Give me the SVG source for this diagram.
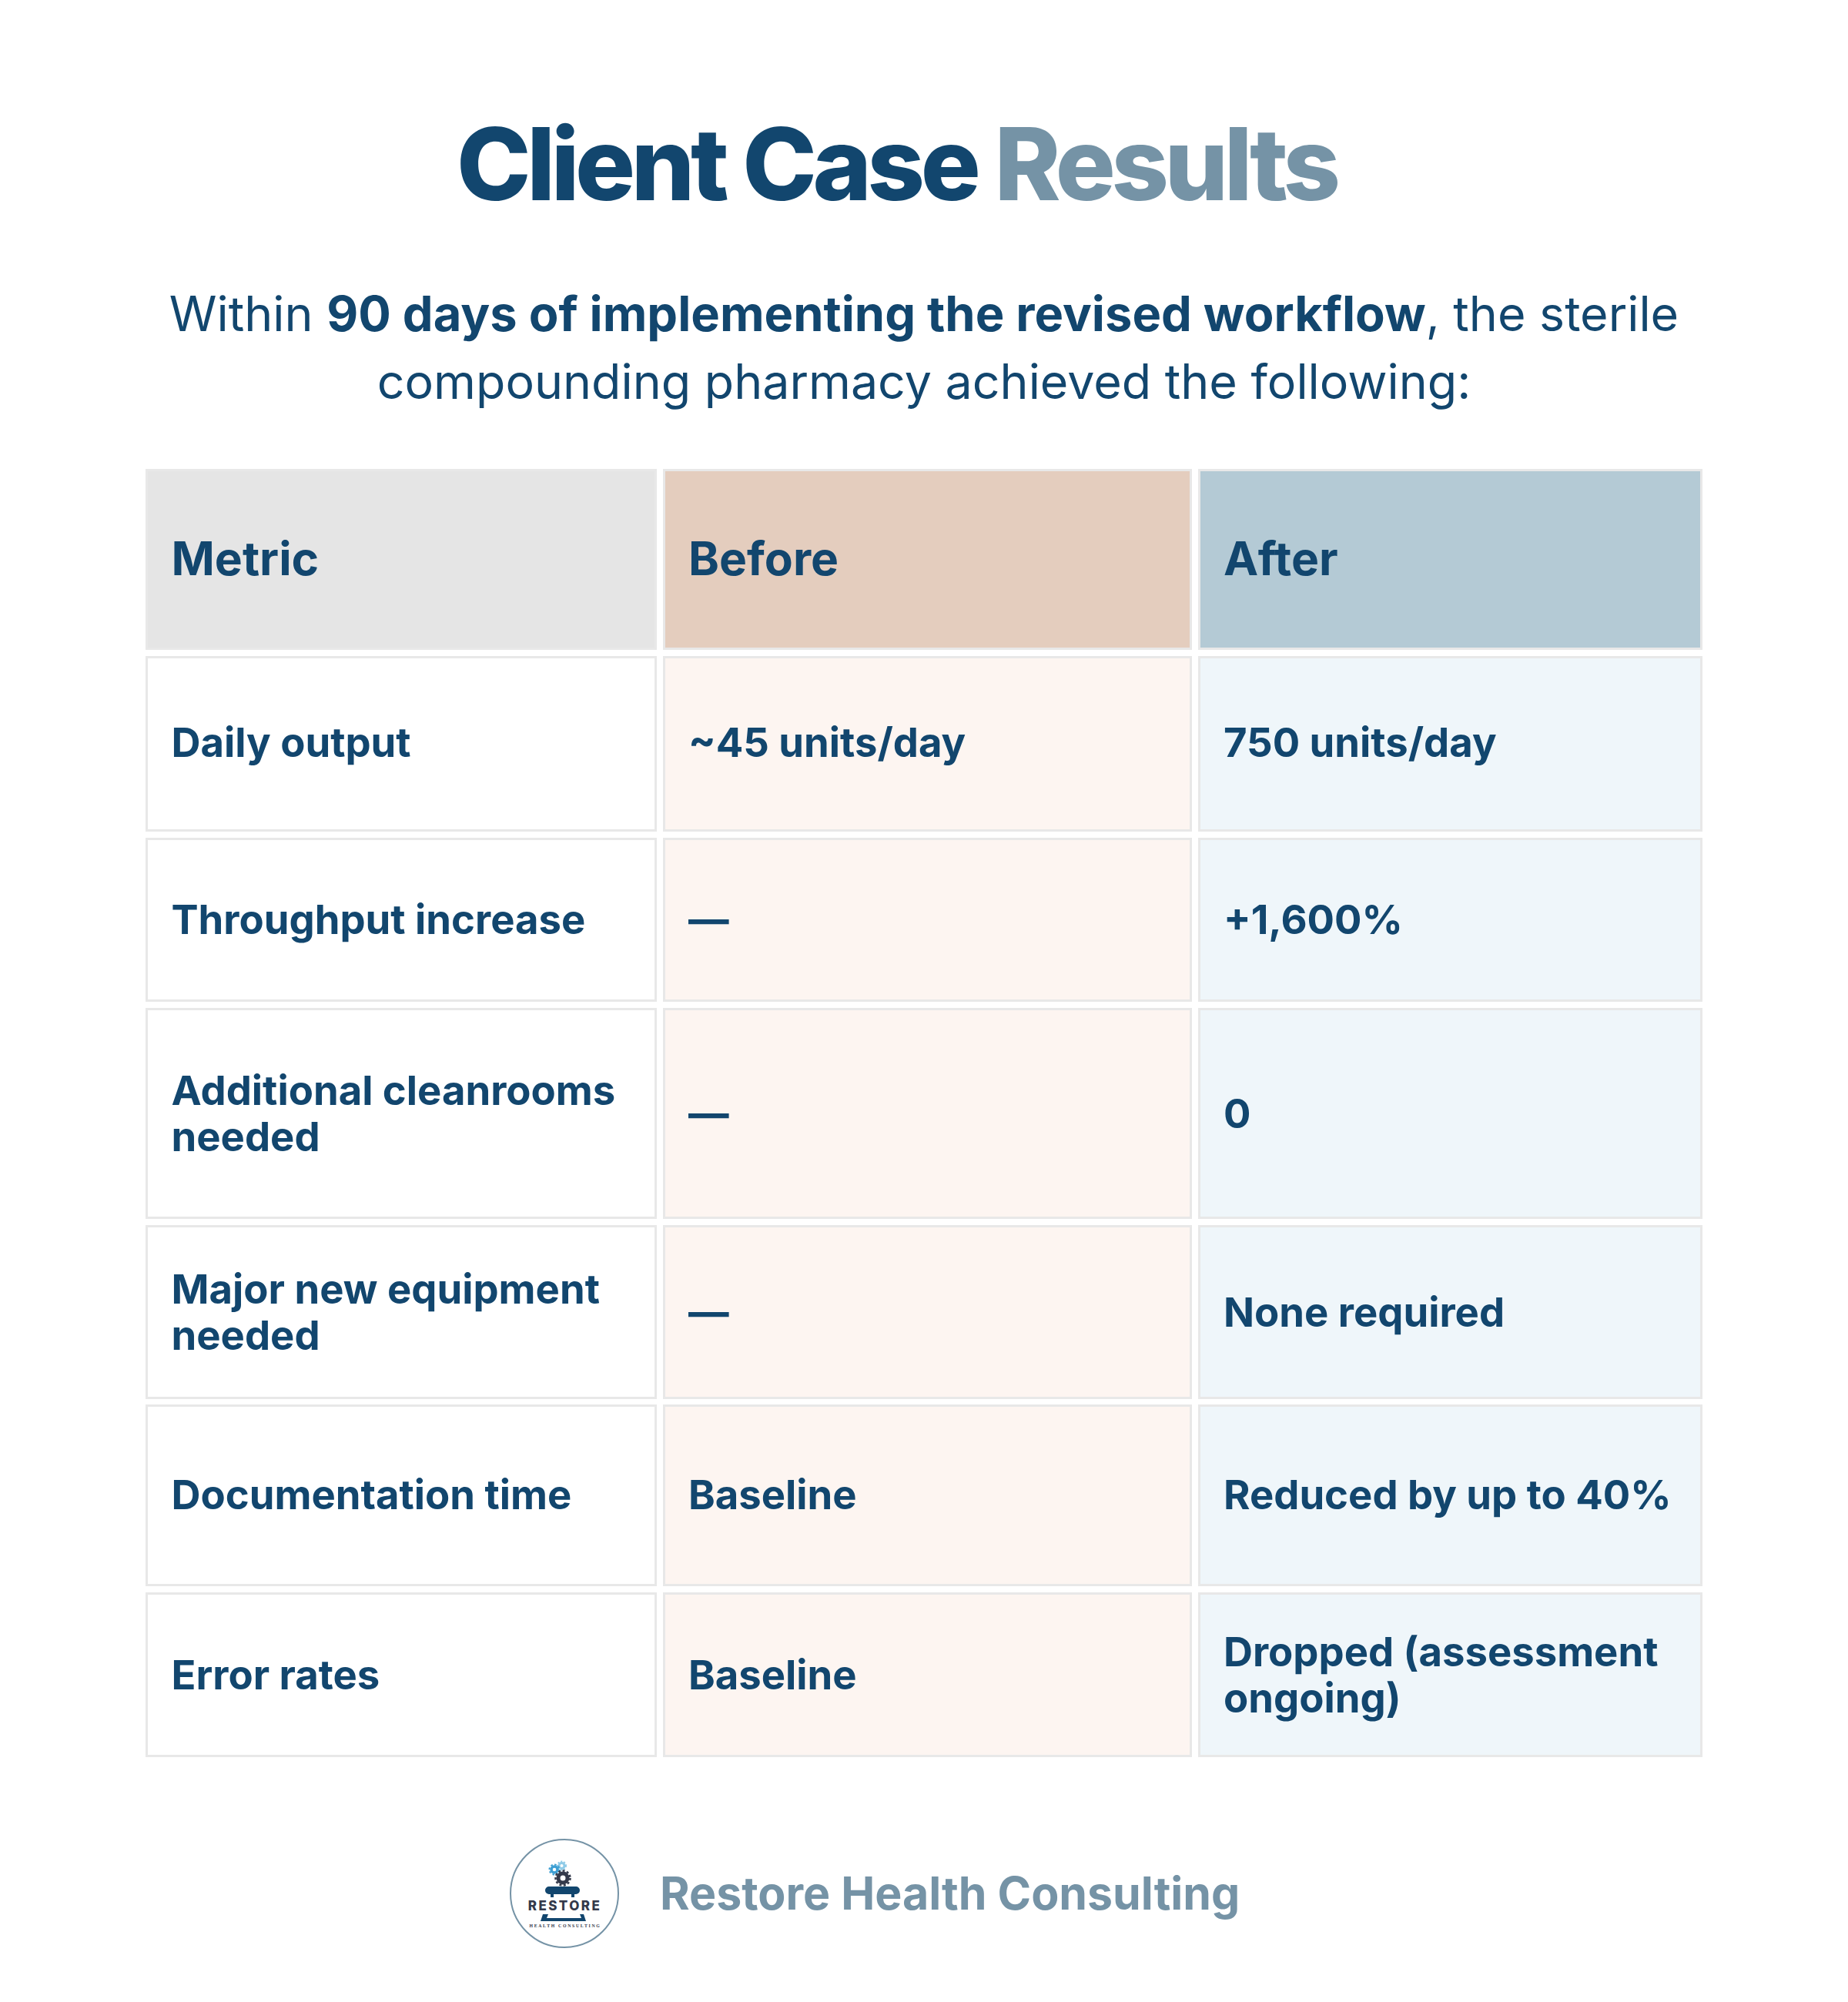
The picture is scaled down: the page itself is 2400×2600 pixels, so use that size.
<svg xmlns="http://www.w3.org/2000/svg" width="2400" height="2600" viewBox="0 0 2400 2600">
<style>
text{font-family:Inter,"Liberation Sans",sans-serif;fill:#12466e}
.t{font-size:130px;font-weight:800;letter-spacing:-5.400px}
.s{font-size:62.700px;font-weight:400}
.h{font-size:60.500px;font-weight:700}
.c{font-size:52.600px;font-weight:700}
.cell{stroke:#e8e8e8;stroke-width:3}
.m{fill:#fff}.b{fill:#fdf5f1}.a{fill:#eff6fa}
</style>
<rect width="2400" height="2600" fill="#fff"/>
<g id="title"><text class="t" x="593" y="260">Client Case <tspan fill="#7593a6">Results</tspan></text></g>
<g id="subtitle"><text class="s" x="1200" y="429.500" text-anchor="middle">Within <tspan font-weight="700" font-size="63.200">90 days of implementing the revised workflow</tspan>, the sterile</text>
<text class="s" x="1200" y="517.500" text-anchor="middle">compounding pharmacy achieved the following:</text></g>
<g id="header">
<rect class="cell" x="190.500" y="610.500" width="661" height="232" fill="#e5e5e5"/>
<rect class="cell" x="862.500" y="610.500" width="684" height="232" fill="#e4cdbe"/>
<rect class="cell" x="1557.500" y="610.500" width="652" height="232" fill="#b4cad5"/>
<text class="h" x="222.500" y="747">Metric</text><text class="h" x="894" y="747">Before</text><text class="h" x="1589" y="747">After</text>
</g>
<g id="row1"><rect class="cell m" x="190.500" y="853.500" width="661" height="225"/><rect class="cell b" x="862.500" y="853.500" width="684" height="225"/><rect class="cell a" x="1557.500" y="853.500" width="652" height="225"/>
<text class="c" x="222.500" y="983">Daily output</text><text class="c" x="894" y="983">~45 units/day</text><text class="c" x="1589" y="983">750 units/day</text></g>
<g id="row2"><rect class="cell m" x="190.500" y="1089.500" width="661" height="210"/><rect class="cell b" x="862.500" y="1089.500" width="684" height="210"/><rect class="cell a" x="1557.500" y="1089.500" width="652" height="210"/>
<text class="c" x="222.500" y="1213">Throughput increase</text><text class="c" x="894" y="1213">—</text><text class="c" x="1589" y="1213">+1,600%</text></g>
<g id="row3"><rect class="cell m" x="190.500" y="1310.500" width="661" height="271"/><rect class="cell b" x="862.500" y="1310.500" width="684" height="271"/><rect class="cell a" x="1557.500" y="1310.500" width="652" height="271"/>
<text class="c" x="222.500" y="1435">Additional cleanrooms</text><text class="c" x="222.500" y="1495">needed</text><text class="c" x="894" y="1465">—</text><text class="c" x="1589" y="1465">0</text></g>
<g id="row4"><rect class="cell m" x="190.500" y="1592.500" width="661" height="223"/><rect class="cell b" x="862.500" y="1592.500" width="684" height="223"/><rect class="cell a" x="1557.500" y="1592.500" width="652" height="223"/>
<text class="c" x="222.500" y="1693">Major new equipment</text><text class="c" x="222.500" y="1753">needed</text><text class="c" x="894" y="1723">—</text><text class="c" x="1589" y="1723">None required</text></g>
<g id="row5"><rect class="cell m" x="190.500" y="1825.500" width="661" height="233"/><rect class="cell b" x="862.500" y="1825.500" width="684" height="233"/><rect class="cell a" x="1557.500" y="1825.500" width="652" height="233"/>
<text class="c" x="222.500" y="1960">Documentation time</text><text class="c" x="894" y="1960">Baseline</text><text class="c" x="1589" y="1960">Reduced by up to 40%</text></g>
<g id="row6"><rect class="cell m" x="190.500" y="2069.500" width="661" height="211"/><rect class="cell b" x="862.500" y="2069.500" width="684" height="211"/><rect class="cell a" x="1557.500" y="2069.500" width="652" height="211"/>
<text class="c" x="222.500" y="2194">Error rates</text><text class="c" x="894" y="2194">Baseline</text><text class="c" x="1589" y="2164">Dropped (assessment</text><text class="c" x="1589" y="2224">ongoing)</text></g>
<g id="logo">
<circle cx="733" cy="2459" r="70" fill="#fff" stroke="#7593a6" stroke-width="2"/>
<circle cx="729.500" cy="2423" r="3.500" fill="none" stroke="#8fcbe8" stroke-width="3"/>
<circle cx="729.500" cy="2423" r="5.500" fill="none" stroke="#8fcbe8" stroke-width="2" stroke-dasharray="2 2"/>
<circle cx="720" cy="2428" r="4" fill="none" stroke="#3d9fd3" stroke-width="3.500"/>
<circle cx="720" cy="2428" r="6.500" fill="none" stroke="#3d9fd3" stroke-width="2" stroke-dasharray="2.500 2.500"/>
<circle cx="731" cy="2439" r="6" fill="none" stroke="#33394a" stroke-width="5"/>
<circle cx="731" cy="2439" r="9.500" fill="none" stroke="#33394a" stroke-width="2.500" stroke-dasharray="3 2.500"/>
<path d="M713 2450H748a5 5 0 0 1 0 10H746v4H742v-4H719v4H715v-4H713a5 5 0 0 1 0-10Z" fill="#12466e"/>
<text x="733.500" y="2481" text-anchor="middle" font-size="17" font-weight="800" letter-spacing="2.400" style="font-family:Inter,sans-serif;fill:#33394a">RESTORE</text>
<path d="M705 2486H712L710 2491H755L753 2486H758L761 2495H702Z" fill="#12466e"/>
<text x="734" y="2503" text-anchor="middle" font-size="5.800" letter-spacing="1.700" font-weight="700" style="font-family:'Liberation Serif',serif;fill:#33394a">HEALTH CONSULTING</text>
</g>
<g id="brand"><text x="857" y="2480" font-size="59" font-weight="700" style="fill:#7593a6">Restore Health Consulting</text></g>
</svg>
